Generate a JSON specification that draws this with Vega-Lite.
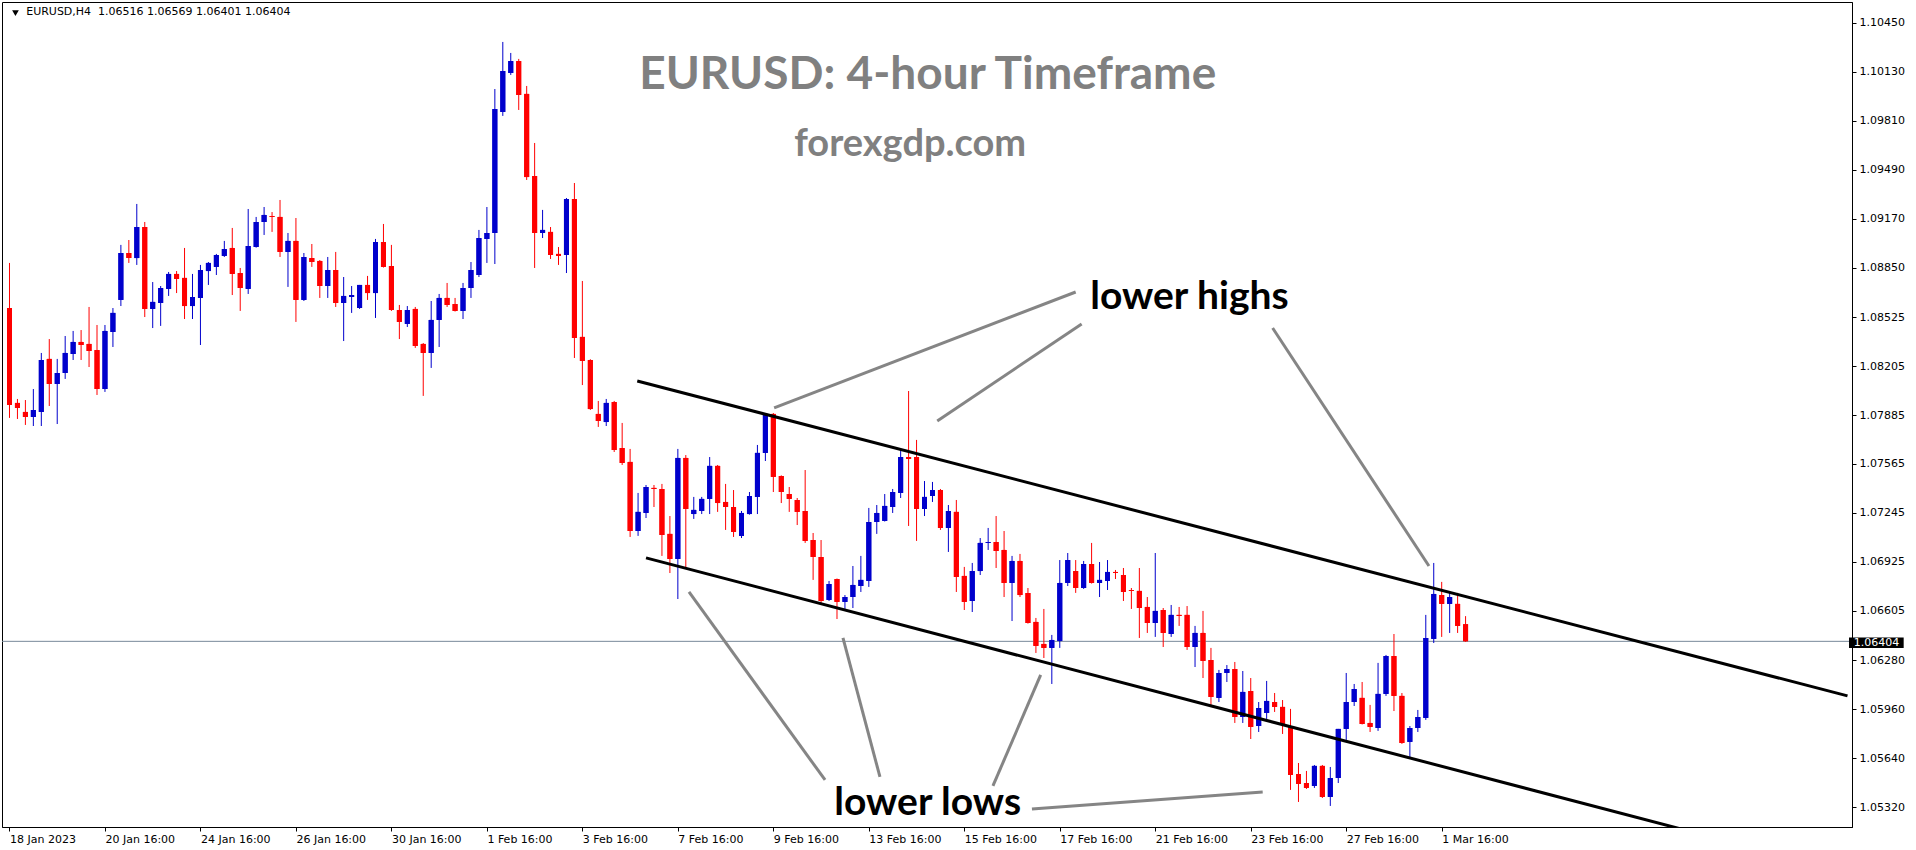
{
  "$schema": "https://vega.github.io/schema/vega-lite/v6.json",
  "width": 1850,
  "height": 825,
  "autosize": {"type": "none"},
  "padding": {"left": 2, "top": 2, "right": 64, "bottom": 23},
  "background": "white",
  "config": {
    "view": {"stroke": "black", "strokeWidth": 1},
    "axis": {"title": null, "grid": false, "labelFont": "DejaVu Sans", "labelFontSize": 11, "labelColor": "black", "tickColor": "black", "domainColor": "black", "tickSize": 4, "labelOverlap": false, "labelBound": false, "labelFlush": false}
  },
  "datasets": {
    "candles": [
      {"i":0,"o":1.08585,"h":1.08880,"l":1.07866,"c":1.07951},
      {"i":1,"o":1.07964,"h":1.07990,"l":1.07859,"c":1.07931},
      {"i":2,"o":1.07905,"h":1.07983,"l":1.07820,"c":1.07872},
      {"i":3,"o":1.07872,"h":1.08055,"l":1.07813,"c":1.07918},
      {"i":4,"o":1.07905,"h":1.08291,"l":1.07813,"c":1.08245},
      {"i":5,"o":1.08252,"h":1.08382,"l":1.07944,"c":1.08088},
      {"i":6,"o":1.08088,"h":1.08252,"l":1.07826,"c":1.08160},
      {"i":7,"o":1.08160,"h":1.08402,"l":1.08121,"c":1.08291},
      {"i":8,"o":1.08284,"h":1.08435,"l":1.08245,"c":1.08363},
      {"i":9,"o":1.08363,"h":1.08441,"l":1.08245,"c":1.08343},
      {"i":10,"o":1.08350,"h":1.08592,"l":1.08199,"c":1.08304},
      {"i":11,"o":1.08310,"h":1.08474,"l":1.08016,"c":1.08055},
      {"i":12,"o":1.08055,"h":1.08474,"l":1.08036,"c":1.08435},
      {"i":13,"o":1.08428,"h":1.08585,"l":1.08330,"c":1.08553},
      {"i":14,"o":1.08638,"h":1.08998,"l":1.08598,"c":1.08945},
      {"i":15,"o":1.08945,"h":1.09030,"l":1.08880,"c":1.08912},
      {"i":16,"o":1.08912,"h":1.09266,"l":1.08867,"c":1.09115},
      {"i":17,"o":1.09115,"h":1.09148,"l":1.08526,"c":1.08579},
      {"i":18,"o":1.08579,"h":1.08755,"l":1.08454,"c":1.08625},
      {"i":19,"o":1.08618,"h":1.08729,"l":1.08468,"c":1.08716},
      {"i":20,"o":1.08710,"h":1.08821,"l":1.08664,"c":1.08808},
      {"i":21,"o":1.08808,"h":1.08827,"l":1.08683,"c":1.08775},
      {"i":22,"o":1.08782,"h":1.08978,"l":1.08513,"c":1.08598},
      {"i":23,"o":1.08598,"h":1.08808,"l":1.08513,"c":1.08657},
      {"i":24,"o":1.08651,"h":1.08867,"l":1.08343,"c":1.08834},
      {"i":25,"o":1.08827,"h":1.08886,"l":1.08736,"c":1.08880},
      {"i":26,"o":1.08854,"h":1.08939,"l":1.08801,"c":1.08932},
      {"i":27,"o":1.08926,"h":1.09024,"l":1.08919,"c":1.08971},
      {"i":28,"o":1.08978,"h":1.09109,"l":1.08670,"c":1.08808},
      {"i":29,"o":1.08814,"h":1.08847,"l":1.08566,"c":1.08716},
      {"i":30,"o":1.08710,"h":1.09233,"l":1.08677,"c":1.08991},
      {"i":31,"o":1.08984,"h":1.09181,"l":1.08980,"c":1.09148},
      {"i":32,"o":1.09148,"h":1.09246,"l":1.09063,"c":1.09194},
      {"i":33,"o":1.09187,"h":1.09213,"l":1.09083,"c":1.09181},
      {"i":34,"o":1.09181,"h":1.09292,"l":1.08919,"c":1.08952},
      {"i":35,"o":1.08952,"h":1.09076,"l":1.08723,"c":1.09024},
      {"i":36,"o":1.09024,"h":1.09174,"l":1.08494,"c":1.08638},
      {"i":37,"o":1.08638,"h":1.08945,"l":1.08631,"c":1.08919},
      {"i":38,"o":1.08912,"h":1.09004,"l":1.08854,"c":1.08886},
      {"i":39,"o":1.08893,"h":1.08899,"l":1.08651,"c":1.08729},
      {"i":40,"o":1.08729,"h":1.08919,"l":1.08651,"c":1.08834},
      {"i":41,"o":1.08834,"h":1.08952,"l":1.08592,"c":1.08618},
      {"i":42,"o":1.08618,"h":1.08788,"l":1.08369,"c":1.08664},
      {"i":43,"o":1.08657,"h":1.08729,"l":1.08553,"c":1.08670},
      {"i":44,"o":1.08585,"h":1.08736,"l":1.08579,"c":1.08736},
      {"i":45,"o":1.08736,"h":1.08795,"l":1.08638,"c":1.08683},
      {"i":46,"o":1.08683,"h":1.09037,"l":1.08520,"c":1.09017},
      {"i":47,"o":1.09017,"h":1.09135,"l":1.08850,"c":1.08854},
      {"i":48,"o":1.08860,"h":1.08998,"l":1.08566,"c":1.08572},
      {"i":49,"o":1.08572,"h":1.08605,"l":1.08382,"c":1.08494},
      {"i":50,"o":1.08481,"h":1.08598,"l":1.08461,"c":1.08572},
      {"i":51,"o":1.08579,"h":1.08592,"l":1.08324,"c":1.08337},
      {"i":52,"o":1.08350,"h":1.08356,"l":1.08010,"c":1.08291},
      {"i":53,"o":1.08291,"h":1.08631,"l":1.08193,"c":1.08507},
      {"i":54,"o":1.08507,"h":1.08677,"l":1.08330,"c":1.08651},
      {"i":55,"o":1.08651,"h":1.08749,"l":1.08592,"c":1.08605},
      {"i":56,"o":1.08611,"h":1.08651,"l":1.08562,"c":1.08566},
      {"i":57,"o":1.08566,"h":1.08749,"l":1.08513,"c":1.08716},
      {"i":58,"o":1.08716,"h":1.08886,"l":1.08651,"c":1.08834},
      {"i":59,"o":1.08801,"h":1.09096,"l":1.08788,"c":1.09043},
      {"i":60,"o":1.09037,"h":1.09246,"l":1.08880,"c":1.09076},
      {"i":61,"o":1.09076,"h":1.10018,"l":1.08873,"c":1.09887},
      {"i":62,"o":1.09868,"h":1.10326,"l":1.09842,"c":1.10136},
      {"i":63,"o":1.10123,"h":1.10254,"l":1.10110,"c":1.10201},
      {"i":64,"o":1.10201,"h":1.10215,"l":1.09881,"c":1.09979},
      {"i":65,"o":1.09986,"h":1.10038,"l":1.09423,"c":1.09442},
      {"i":66,"o":1.09449,"h":1.09665,"l":1.08847,"c":1.09076},
      {"i":67,"o":1.09076,"h":1.09227,"l":1.09043,"c":1.09096},
      {"i":68,"o":1.09083,"h":1.09115,"l":1.08906,"c":1.08932},
      {"i":69,"o":1.08939,"h":1.08984,"l":1.08867,"c":1.08926},
      {"i":70,"o":1.08932,"h":1.09305,"l":1.08814,"c":1.09298},
      {"i":71,"o":1.09298,"h":1.09403,"l":1.08258,"c":1.08389},
      {"i":72,"o":1.08396,"h":1.08762,"l":1.08081,"c":1.08239},
      {"i":73,"o":1.08245,"h":1.08250,"l":1.07918,"c":1.07924},
      {"i":74,"o":1.07892,"h":1.07977,"l":1.07807,"c":1.07846},
      {"i":75,"o":1.07839,"h":1.07990,"l":1.07813,"c":1.07964},
      {"i":76,"o":1.07970,"h":1.07977,"l":1.07643,"c":1.07656},
      {"i":77,"o":1.07669,"h":1.07833,"l":1.07558,"c":1.07571},
      {"i":78,"o":1.07578,"h":1.07663,"l":1.07087,"c":1.07126},
      {"i":79,"o":1.07126,"h":1.07375,"l":1.07094,"c":1.07251},
      {"i":80,"o":1.07244,"h":1.07427,"l":1.07211,"c":1.07414},
      {"i":81,"o":1.07408,"h":1.07427,"l":1.07283,"c":1.07401},
      {"i":82,"o":1.07401,"h":1.07434,"l":1.06963,"c":1.07100},
      {"i":83,"o":1.07107,"h":1.07224,"l":1.06851,"c":1.06943},
      {"i":84,"o":1.06943,"h":1.07663,"l":1.06681,"c":1.07604},
      {"i":85,"o":1.07604,"h":1.07623,"l":1.06884,"c":1.07270},
      {"i":86,"o":1.07237,"h":1.07349,"l":1.07205,"c":1.07264},
      {"i":87,"o":1.07257,"h":1.07349,"l":1.07237,"c":1.07336},
      {"i":88,"o":1.07336,"h":1.07610,"l":1.07237,"c":1.07552},
      {"i":89,"o":1.07552,"h":1.07558,"l":1.07251,"c":1.07309},
      {"i":90,"o":1.07316,"h":1.07434,"l":1.07133,"c":1.07283},
      {"i":91,"o":1.07283,"h":1.07394,"l":1.07087,"c":1.07120},
      {"i":92,"o":1.07094,"h":1.07257,"l":1.07080,"c":1.07244},
      {"i":93,"o":1.07237,"h":1.07381,"l":1.07233,"c":1.07355},
      {"i":94,"o":1.07349,"h":1.07689,"l":1.07237,"c":1.07637},
      {"i":95,"o":1.07637,"h":1.07898,"l":1.07584,"c":1.07892},
      {"i":96,"o":1.07892,"h":1.07898,"l":1.07381,"c":1.07480},
      {"i":97,"o":1.07486,"h":1.07490,"l":1.07309,"c":1.07381},
      {"i":98,"o":1.07368,"h":1.07414,"l":1.07251,"c":1.07336},
      {"i":99,"o":1.07329,"h":1.07342,"l":1.07165,"c":1.07251},
      {"i":100,"o":1.07257,"h":1.07525,"l":1.07048,"c":1.07061},
      {"i":101,"o":1.07067,"h":1.07113,"l":1.06806,"c":1.06956},
      {"i":102,"o":1.06956,"h":1.07067,"l":1.06655,"c":1.06668},
      {"i":103,"o":1.06675,"h":1.06799,"l":1.06668,"c":1.06779},
      {"i":104,"o":1.06812,"h":1.06815,"l":1.06550,"c":1.06662},
      {"i":105,"o":1.06662,"h":1.06707,"l":1.06616,"c":1.06694},
      {"i":106,"o":1.06694,"h":1.06897,"l":1.06622,"c":1.06773},
      {"i":107,"o":1.06766,"h":1.06963,"l":1.06727,"c":1.06806},
      {"i":108,"o":1.06799,"h":1.07277,"l":1.06760,"c":1.07185},
      {"i":109,"o":1.07185,"h":1.07296,"l":1.07107,"c":1.07244},
      {"i":110,"o":1.07192,"h":1.07368,"l":1.07188,"c":1.07290},
      {"i":111,"o":1.07283,"h":1.07401,"l":1.07244,"c":1.07381},
      {"i":112,"o":1.07375,"h":1.07656,"l":1.07342,"c":1.07610},
      {"i":113,"o":1.07610,"h":1.08042,"l":1.07159,"c":1.07597},
      {"i":114,"o":1.07610,"h":1.07722,"l":1.07061,"c":1.07270},
      {"i":115,"o":1.07270,"h":1.07453,"l":1.07224,"c":1.07349},
      {"i":116,"o":1.07355,"h":1.07447,"l":1.07316,"c":1.07394},
      {"i":117,"o":1.07394,"h":1.07401,"l":1.07133,"c":1.07146},
      {"i":118,"o":1.07146,"h":1.07296,"l":1.06989,"c":1.07257},
      {"i":119,"o":1.07251,"h":1.07329,"l":1.06727,"c":1.06825},
      {"i":120,"o":1.06832,"h":1.06891,"l":1.06609,"c":1.06662},
      {"i":121,"o":1.06668,"h":1.06917,"l":1.06596,"c":1.06864},
      {"i":122,"o":1.06864,"h":1.07080,"l":1.06838,"c":1.07048},
      {"i":123,"o":1.07048,"h":1.07146,"l":1.07002,"c":1.07054},
      {"i":124,"o":1.07054,"h":1.07224,"l":1.06884,"c":1.06995},
      {"i":125,"o":1.07002,"h":1.07126,"l":1.06694,"c":1.06786},
      {"i":126,"o":1.06786,"h":1.06963,"l":1.06537,"c":1.06930},
      {"i":127,"o":1.06930,"h":1.06976,"l":1.06694,"c":1.06707},
      {"i":128,"o":1.06721,"h":1.06753,"l":1.06520,"c":1.06524},
      {"i":129,"o":1.06531,"h":1.06557,"l":1.06328,"c":1.06374},
      {"i":130,"o":1.06387,"h":1.06616,"l":1.06295,"c":1.06361},
      {"i":131,"o":1.06361,"h":1.06446,"l":1.06125,"c":1.06413},
      {"i":132,"o":1.06406,"h":1.06936,"l":1.06361,"c":1.06786},
      {"i":133,"o":1.06786,"h":1.06982,"l":1.06766,"c":1.06936},
      {"i":134,"o":1.06864,"h":1.06936,"l":1.06721,"c":1.06753},
      {"i":135,"o":1.06753,"h":1.06930,"l":1.06747,"c":1.06910},
      {"i":136,"o":1.06910,"h":1.07048,"l":1.06782,"c":1.06786},
      {"i":137,"o":1.06786,"h":1.06923,"l":1.06694,"c":1.06806},
      {"i":138,"o":1.06799,"h":1.06936,"l":1.06740,"c":1.06858},
      {"i":139,"o":1.06858,"h":1.06871,"l":1.06812,"c":1.06851},
      {"i":140,"o":1.06838,"h":1.06884,"l":1.06668,"c":1.06727},
      {"i":141,"o":1.06740,"h":1.06753,"l":1.06616,"c":1.06734},
      {"i":142,"o":1.06734,"h":1.06884,"l":1.06426,"c":1.06622},
      {"i":143,"o":1.06629,"h":1.06694,"l":1.06459,"c":1.06524},
      {"i":144,"o":1.06524,"h":1.06982,"l":1.06433,"c":1.06603},
      {"i":145,"o":1.06609,"h":1.06622,"l":1.06367,"c":1.06459},
      {"i":146,"o":1.06452,"h":1.06642,"l":1.06433,"c":1.06577},
      {"i":147,"o":1.06577,"h":1.06629,"l":1.06505,"c":1.06570},
      {"i":148,"o":1.06577,"h":1.06635,"l":1.06348,"c":1.06367},
      {"i":149,"o":1.06367,"h":1.06505,"l":1.06236,"c":1.06459},
      {"i":150,"o":1.06459,"h":1.06603,"l":1.06164,"c":1.06276},
      {"i":151,"o":1.06282,"h":1.06361,"l":1.05988,"c":1.06040},
      {"i":152,"o":1.06034,"h":1.06217,"l":1.06007,"c":1.06197},
      {"i":153,"o":1.06197,"h":1.06249,"l":1.06138,"c":1.06223},
      {"i":154,"o":1.06223,"h":1.06269,"l":1.05870,"c":1.05909},
      {"i":155,"o":1.05909,"h":1.06210,"l":1.05870,"c":1.06073},
      {"i":156,"o":1.06079,"h":1.06164,"l":1.05765,"c":1.05844},
      {"i":157,"o":1.05850,"h":1.06007,"l":1.05811,"c":1.05968},
      {"i":158,"o":1.05935,"h":1.06145,"l":1.05896,"c":1.06014},
      {"i":159,"o":1.06007,"h":1.06066,"l":1.05942,"c":1.05975},
      {"i":160,"o":1.05975,"h":1.06020,"l":1.05798,"c":1.05863},
      {"i":161,"o":1.05844,"h":1.05962,"l":1.05432,"c":1.05530},
      {"i":162,"o":1.05536,"h":1.05608,"l":1.05353,"c":1.05471},
      {"i":163,"o":1.05477,"h":1.05556,"l":1.05438,"c":1.05445},
      {"i":164,"o":1.05458,"h":1.05595,"l":1.05445,"c":1.05589},
      {"i":165,"o":1.05589,"h":1.05595,"l":1.05379,"c":1.05386},
      {"i":166,"o":1.05386,"h":1.05582,"l":1.05327,"c":1.05510},
      {"i":167,"o":1.05510,"h":1.05831,"l":1.05477,"c":1.05831},
      {"i":168,"o":1.05831,"h":1.06197,"l":1.05759,"c":1.06007},
      {"i":169,"o":1.06007,"h":1.06125,"l":1.05981,"c":1.06092},
      {"i":170,"o":1.06034,"h":1.06138,"l":1.05860,"c":1.05863},
      {"i":171,"o":1.05870,"h":1.05988,"l":1.05811,"c":1.05844},
      {"i":172,"o":1.05837,"h":1.06263,"l":1.05818,"c":1.06060},
      {"i":173,"o":1.06060,"h":1.06315,"l":1.06047,"c":1.06308},
      {"i":174,"o":1.06308,"h":1.06452,"l":1.05948,"c":1.06047},
      {"i":175,"o":1.06047,"h":1.06066,"l":1.05733,"c":1.05739},
      {"i":176,"o":1.05746,"h":1.05850,"l":1.05647,"c":1.05837},
      {"i":177,"o":1.05837,"h":1.05955,"l":1.05811,"c":1.05909},
      {"i":178,"o":1.05903,"h":1.06577,"l":1.05890,"c":1.06426},
      {"i":179,"o":1.06420,"h":1.06917,"l":1.06393,"c":1.06714},
      {"i":180,"o":1.06707,"h":1.06793,"l":1.06433,"c":1.06649},
      {"i":181,"o":1.06649,"h":1.06721,"l":1.06459,"c":1.06694},
      {"i":182,"o":1.06649,"h":1.06721,"l":1.06459,"c":1.06505},
      {"i":183,"o":1.06516,"h":1.06569,"l":1.06401,"c":1.06404}
    ],
    "channel": [
      {"i1":78.9,"p1":1.08108,"i2":231,"p2":1.06047},
      {"i1":80,"p1":1.06950,"i2":212,"p2":1.05150}
    ],
    "pointers": [
      {"i1":134.0,"p1":1.08690,"i2":96.1,"p2":1.07931},
      {"i1":134.75,"p1":1.08481,"i2":116.6,"p2":1.07846},
      {"i1":158.75,"p1":1.08454,"i2":178.4,"p2":1.06897},
      {"i1":85.4,"p1":1.06727,"i2":102.5,"p2":1.05497},
      {"i1":104.75,"p1":1.06426,"i2":109.4,"p2":1.05517},
      {"i1":129.6,"p1":1.06184,"i2":123.6,"p2":1.05458},
      {"i1":128.5,"p1":1.05307,"i2":157.5,"p2":1.05418}
    ],
    "notes": [
      {"i":148.3,"p":1.08579,"t":"lower highs"},
      {"i":115.4,"p":1.05268,"t":"lower lows"}
    ],
    "titles": [
      {"i":115.4,"p":1.10018,"t":"EURUSD: 4-hour Timeframe"}
    ],
    "site": [
      {"i":113.2,"p":1.09580,"t":"forexgdp.com"}
    ]
  },
  "layer": [
    {
      "data": {"name": "candles"},
      "mark": {"type": "bar", "width": 5},
      "encoding": {
        "x": {
          "field": "i", "type": "quantitative",
          "scale": {"domain": [-0.3125, 230.9375], "nice": false, "zero": false},
          "axis": {
            "values": [0, 12, 24, 36, 48, 60, 72, 84, 96, 108, 120, 132, 144, 156, 168, 180],
            "labelExpr": "['18 Jan 2023','20 Jan 16:00','24 Jan 16:00','26 Jan 16:00','30 Jan 16:00','1 Feb 16:00','3 Feb 16:00','7 Feb 16:00','9 Feb 16:00','13 Feb 16:00','15 Feb 16:00','17 Feb 16:00','21 Feb 16:00','23 Feb 16:00','27 Feb 16:00','1 Mar 16:00'][round(datum.value/12)]",
            "labelAlign": "left", "labelPadding": 2, "title": null
          }
        },
        "y": {
          "field": "o", "type": "quantitative",
          "scale": {"domain": [1.051892, 1.105874], "nice": false, "zero": false},
          "axis": {
            "orient": "right",
            "values": [1.0532, 1.0564, 1.0596, 1.0628, 1.06605, 1.06925, 1.07245, 1.07565, 1.07885, 1.08205, 1.08525, 1.0885, 1.0917, 1.0949, 1.0981, 1.1013, 1.1045],
            "format": ".5f", "labelPadding": 3, "title": null
          }
        },
        "y2": {"field": "c"},
        "color": {"condition": {"test": "datum.c >= datum.o", "value": "#0000cc"}, "value": "#ff0000"}
      }
    },
    {
      "data": {"values": [{"p": 1.06404}]},
      "mark": {"type": "rule", "color": "#778899", "strokeWidth": 1},
      "encoding": {
        "y": {"field": "p", "type": "quantitative"}
      }
    },
    {
      "data": {"name": "candles"},
      "mark": {"type": "rule", "strokeWidth": 1},
      "encoding": {
        "x": {"field": "i", "type": "quantitative"},
        "y": {"field": "l", "type": "quantitative"},
        "y2": {"field": "h"},
        "color": {"condition": {"test": "datum.c >= datum.o", "value": "#0000cc"}, "value": "#ff0000"}
      }
    },
    {
      "data": {"name": "candles"},
      "mark": {"type": "bar", "width": 5},
      "encoding": {
        "x": {"field": "i", "type": "quantitative"},
        "y": {"field": "o", "type": "quantitative"},
        "y2": {"field": "c"},
        "color": {"condition": {"test": "datum.c >= datum.o", "value": "#0000cc"}, "value": "#ff0000"}
      }
    },
    {
      "data": {"name": "pointers"},
      "mark": {"type": "rule", "color": "#858585", "strokeWidth": 3, "clip": true},
      "encoding": {
        "x": {"field": "i1", "type": "quantitative"},
        "y": {"field": "p1", "type": "quantitative"},
        "x2": {"field": "i2"},
        "y2": {"field": "p2"}
      }
    },
    {
      "data": {"name": "channel"},
      "mark": {"type": "rule", "color": "black", "strokeWidth": 3, "clip": true},
      "encoding": {
        "x": {"field": "i1", "type": "quantitative"},
        "y": {"field": "p1", "type": "quantitative"},
        "x2": {"field": "i2"},
        "y2": {"field": "p2"}
      }
    },
    {
      "data": {"name": "notes"},
      "mark": {"type": "text", "font": "Lato", "fontWeight": "bold", "fontSize": 39, "color": "black", "align": "center", "baseline": "alphabetic"},
      "encoding": {
        "x": {"field": "i", "type": "quantitative"},
        "y": {"field": "p", "type": "quantitative"},
        "text": {"field": "t"}
      }
    },
    {
      "data": {"name": "titles"},
      "mark": {"type": "text", "font": "Lato", "fontWeight": "bold", "fontSize": 46, "color": "#808080", "align": "center", "baseline": "alphabetic"},
      "encoding": {
        "x": {"field": "i", "type": "quantitative"},
        "y": {"field": "p", "type": "quantitative"},
        "text": {"field": "t"}
      }
    },
    {
      "data": {"name": "site"},
      "mark": {"type": "text", "font": "Lato", "fontWeight": "bold", "fontSize": 38, "color": "#808080", "align": "center", "baseline": "alphabetic"},
      "encoding": {
        "x": {"field": "i", "type": "quantitative"},
        "y": {"field": "p", "type": "quantitative"},
        "text": {"field": "t"}
      }
    },
    {
      "data": {"values": [{"i": 0.75, "p": 1.10515}]},
      "mark": {"type": "point", "shape": "triangle-down", "filled": true, "color": "black", "size": 45, "opacity": 1},
      "encoding": {
        "x": {"field": "i", "type": "quantitative"},
        "y": {"field": "p", "type": "quantitative"}
      }
    },
    {
      "data": {"values": [{"i": 2.1, "p": 1.10519, "t": "EURUSD,H4\u00a0 1.06516 1.06569 1.06401 1.06404"}]},
      "mark": {"type": "text", "font": "DejaVu Sans", "fontSize": 11, "color": "black", "align": "left", "baseline": "middle"},
      "encoding": {
        "x": {"field": "i", "type": "quantitative"},
        "y": {"field": "p", "type": "quantitative"},
        "text": {"field": "t"}
      }
    },
    {
      "data": {"values": [{"i1": 231.19, "i2": 238.06, "p1": 1.06429, "p2": 1.06361}]},
      "mark": {"type": "rect", "color": "black", "clip": false},
      "encoding": {
        "x": {"field": "i1", "type": "quantitative"},
        "x2": {"field": "i2"},
        "y": {"field": "p1", "type": "quantitative"},
        "y2": {"field": "p2"}
      }
    },
    {
      "data": {"values": [{"i": 231.8, "p": 1.06395, "t": "1.06404"}]},
      "mark": {"type": "text", "font": "DejaVu Sans", "fontSize": 11, "color": "white", "align": "left", "baseline": "middle", "clip": false},
      "encoding": {
        "x": {"field": "i", "type": "quantitative"},
        "y": {"field": "p", "type": "quantitative"},
        "text": {"field": "t"}
      }
    }
  ]
}
